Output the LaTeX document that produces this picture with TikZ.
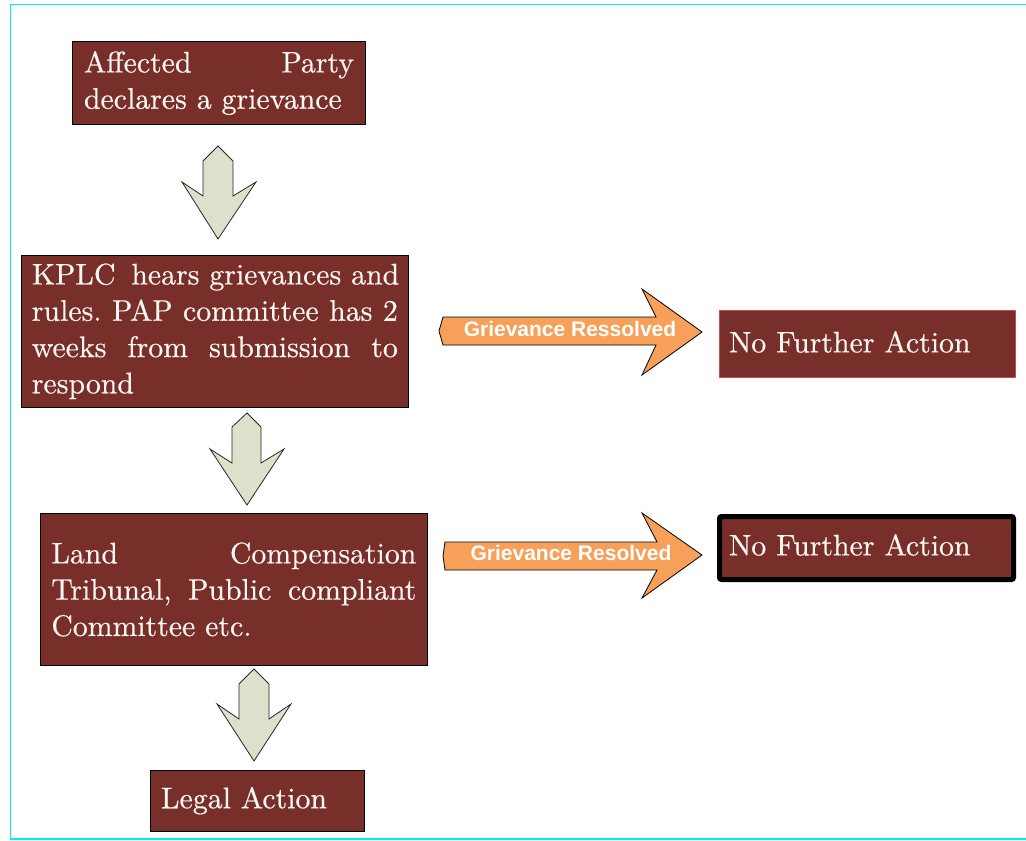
\documentclass[tikz,border=0pt]{standalone}
\usepackage{fontspec}
\setmainfont{lmroman10-regular.otf}[FakeBold=0.5]
\newfontfamily\labfont{Liberation Sans}
\definecolor{boxred}{RGB}{120,46,41}
\definecolor{boxedge}{RGB}{192,80,77}
\definecolor{arrowgreen}{RGB}{221,225,203}
\definecolor{arroworange}{RGB}{246,160,90}
\definecolor{framecyan}{RGB}{0,240,240}
\definecolor{boxtext}{RGB}{250,246,242}
\newcommand\jl[2]{\leavevmode\hbox to #1{#2}}
\newcommand\gap{\ \hfill}
\frenchspacing
\begin{document}
\begin{tikzpicture}[x=1pt,y=-1pt,
  box/.style={draw=black, line width=0.8pt, fill=boxred, text=boxtext,
    font=\fontsize{29.8}{36.3}\selectfont, align=left, inner ysep=0pt, anchor=center},
  downarrow/.style={draw=black!85, line width=0.8pt, fill=arrowgreen, line join=miter},
  sidearrow/.style={draw=black, line width=0.8pt, fill=arroworange, line join=miter},
  arrowlabel/.style={text=white, font=\labfont\bfseries\fontsize{21}{24}\selectfont, anchor=base, inner sep=0pt}
]
\useasboundingbox (0,0) rectangle (1026,841);
\draw[framecyan, line width=1.5pt] (1026,4.5) -- (10.5,4.5) -- (10.5,839) -- (1026,839);

% boxes
\node[box, minimum width=293.4pt, minimum height=82.6pt, text width=270pt, inner xsep=11.7pt] (A) at (219,83)
  {\jl{270pt}{Affected\gap Party}\\declares a grievance};
\node[box, minimum width=387.7pt, minimum height=152.3pt, text width=366pt, inner xsep=10.85pt] (B) at (214.85,331.3)
  {\jl{366pt}{KPLC\hspace{.2em}\gap hears\gap grievances\gap and}\\
   \jl{366pt}{rules.\gap PAP\gap committee\gap has\gap 2}\\
   \jl{366pt}{weeks\gap from\gap submission\gap to}\\
   respond};
\node[box, minimum width=387.7pt, minimum height=152.4pt, text width=365pt, inner xsep=11.35pt] (C) at (233.85,589.5)
  {\jl{365pt}{Land\gap Compensation}\\
   \jl{365pt}{Tribunal,\gap Public\gap compliant}\\
   Committee etc.};
\node[box, minimum width=214pt, minimum height=60.7pt, text width=193.4pt, inner xsep=10.3pt] (D) at (257.7,800.65)
  {Legal Action};
\node[box, draw=boxedge, minimum width=296pt, minimum height=67pt, text width=276pt, inner xsep=10pt, text depth=3.5pt] (E) at (867,343.5)
  {No Further Action};
\node[box, line width=5pt, rounded corners=2pt, minimum width=294pt, minimum height=63pt, text width=275pt, inner xsep=9.5pt, text depth=6.5pt] (F) at (866.5,548)
  {No Further Action};

% down arrows
\path[downarrow] (218,146) -- (233,161) -- (233,196) -- (256,182) -- (218,239) -- (182,182) -- (203,196) -- (203,161) -- cycle;
\path[downarrow] (247,413) -- (261,427) -- (261,463) -- (284,449) -- (247,505) -- (210,449) -- (232,463) -- (232,427) -- cycle;
\path[downarrow] (254,669) -- (269,684) -- (269,719) -- (291,704) -- (254,761) -- (217,704) -- (239,719) -- (239,684) -- cycle;

% side arrows
\path[sidearrow] (443,317) -- (656,317) -- (642,289) -- (702,332) -- (642,375) -- (656,345) -- (443,345) -- (439,331) -- cycle;
\node[arrowlabel] (L1) at (570,336.7) {Grievance Ressolved};
\path[sidearrow] (445,542) -- (657,542) -- (642,513) -- (702,555) -- (642,598) -- (657,570) -- (445,570) -- (443,556) -- cycle;
\node[arrowlabel] (L2) at (571,560.7) {Grievance Resolved};
\end{tikzpicture}
\end{document}
